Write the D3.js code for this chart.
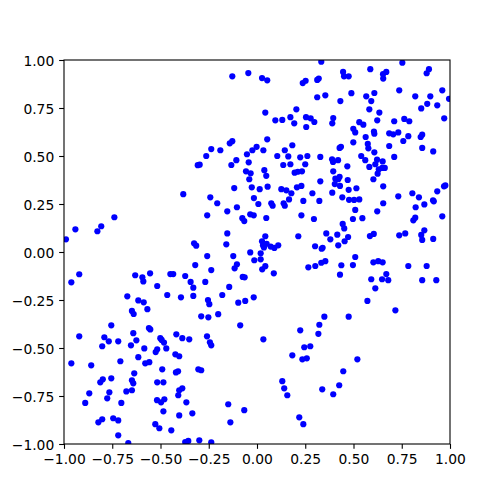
<!DOCTYPE html>
<html>
<head>
<meta charset="utf-8">
<script src="https://cdn.jsdelivr.net/npm/d3@7"></script>
<style>
  html, body { margin: 0; padding: 0; background: #fff; }
  svg { display: block; }
</style>
</head>
<body>
<svg id="chart" width="500" height="500"></svg>
<script>
// ---- data ----
const xValues = [
  -0.128,-0.045,-0.128,-0.141,-0.237,-0.190,-0.263,-0.297,-0.307,-0.133,-0.107,-0.052,-0.024,-0.043,-0.057,-0.033,-0.040,
  0.333,0.026,0.053,0.237,0.252,0.312,0.320,0.446,0.451,0.475,0.312,0.354,0.432,0.489,0.043,0.204,0.095,0.131,0.173,0.193,0.254,0.278,0.297,0.255,0.395,0.390,0.053,-0.002,0.033,0.183,0.144,0.105,0.162,0.224,0.261,0.328,0.428,0.435,0.136,0.173,0.250,0.038,0.048,0.195,0.211,0.233,0.389,0.394,0.420,0.468,0.395,0.428,0.406,0.421,0.470,0.403,0.328,
  0.753,0.587,0.653,0.670,0.654,0.879,0.891,0.566,0.608,0.592,0.737,0.820,0.960,0.995,0.898,0.882,0.934,0.851,0.582,0.634,0.623,0.970,0.530,0.551,0.499,0.509,0.606,0.608,0.563,0.499,0.711,0.763,0.789,0.685,0.706,0.732,0.784,0.758,0.848,0.856,0.574,0.577,0.685,0.856,0.913,0.608,0.540,0.561,0.711,0.622,0.651,0.613,0.582,0.631,0.649,0.662,0.625,0.603,
  0.475,0.515,0.654,0.969,0.976,0.934,0.477,0.503,0.530,0.509,0.497,0.546,0.654,0.623,0.732,0.805,0.839,0.867,0.822,0.912,0.916,0.960,0.820,0.810,0.472,0.585,0.605,0.737,0.768,0.851,0.856,0.867,0.913,0.509,0.497,0.603,0.628,0.651,0.784,0.879,0.670,0.592,0.648,0.680,0.856,0.929,0.613,0.572,0.717,
  0.014,0.055,0.126,0.152,0.178,0.207,0.230,-0.016,0.007,0.074,0.081,0.138,0.144,0.166,0.240,0.287,0.323,0.390,0.430,0.442,0.048,0.230,0.295,0.444,0.452,0.416,0.380,0.359,0.454,0.421,0.214,0.043,0.026,0.050,0.031,0.036,0.071,0.090,0.110,0.019,-0.014,0.019,0.043,0.027,0.087,0.301,0.335,0.340,0.266,0.302,0.333,0.354,0.437,0.430,-0.017,
  -0.118,-0.027,-0.382,-0.242,-0.206,-0.104,-0.154,-0.258,-0.035,-0.017,-0.076,-0.066,-0.154,-0.159,-0.326,-0.315,-0.258,-0.123,-0.035,-0.320,-0.104,-0.116,-0.237,-0.449,-0.434,-0.372,-0.074,-0.064,-0.517,-0.344,-0.330,-0.268,-0.144,-0.465,-0.394,-0.330,-0.254,-0.247,-0.180,-0.097,-0.061,
  -0.739,-0.941,-0.827,-0.807,-0.990,-0.921,-0.962,-0.631,-0.594,-0.589,-0.554,-0.672,-0.615,-0.587,-0.568,-0.648,
  -0.639,-0.755,-0.921,-0.791,-0.802,-0.768,-0.719,-0.641,-0.653,-0.625,-0.560,-0.553,-0.584,-0.615,-0.525,-0.517,-0.579,-0.558,-0.962,-0.859,-0.708,-0.636,-0.648,-0.641,-0.799,-0.812,-0.755,-0.517,-0.869,-0.890,-0.765,-0.776,-0.677,-0.648,-0.703,-0.822,-0.802,-0.745,-0.719,-0.719,-0.667,-0.527,-0.506,
  -0.289,-0.252,-0.201,-0.087,-0.501,-0.494,-0.482,-0.418,-0.387,-0.351,-0.259,-0.244,-0.237,-0.470,-0.423,-0.403,-0.491,-0.420,-0.409,-0.304,-0.289,-0.485,-0.387,-0.403,-0.408,-0.518,-0.497,-0.480,-0.366,-0.485,-0.403,-0.335,-0.149,-0.066,-0.138,-0.444,-0.372,-0.356,-0.299,-0.237,
  0.349,0.475,0.323,0.318,0.224,0.033,0.245,0.276,0.183,0.235,0.258,0.447,0.131,0.141,0.157,0.426,0.338,0.395,0.219,0.240,0.520
];
const yValues = [
  0.915,0.932,0.577,0.566,0.536,0.530,0.500,0.455,0.452,0.453,0.478,0.509,0.530,0.467,0.420,0.410,0.379,
  0.991,0.906,0.894,0.880,0.892,0.896,0.903,0.938,0.915,0.915,0.806,0.816,0.786,0.827,0.726,0.743,0.686,0.688,0.702,0.670,0.702,0.696,0.677,0.651,0.698,0.670,0.587,0.548,0.530,0.556,0.530,0.500,0.498,0.493,0.500,0.495,0.542,0.548,0.453,0.457,0.457,0.426,0.397,0.413,0.418,0.420,0.483,0.469,0.478,0.446,0.420,0.392,0.382,0.379,0.375,0.354,0.368,
  0.986,0.952,0.926,0.938,0.903,0.931,0.952,0.811,0.828,0.786,0.842,0.811,0.842,0.798,0.811,0.772,0.764,0.748,0.743,0.726,0.686,0.696,0.676,0.663,0.642,0.623,0.627,0.616,0.599,0.571,0.681,0.693,0.681,0.618,0.613,0.623,0.603,0.578,0.599,0.611,0.563,0.540,0.552,0.542,0.524,0.519,0.500,0.478,0.495,0.481,0.472,0.457,0.443,0.431,0.438,0.438,0.408,0.379,
  0.324,0.332,0.342,0.342,0.347,0.316,0.272,0.271,0.274,0.219,0.172,0.176,0.254,0.212,0.290,0.306,0.285,0.248,0.233,0.269,0.264,0.186,0.179,0.165,0.078,0.083,0.094,0.087,0.097,0.089,0.063,0.113,0.068,-0.026,-0.068,-0.054,-0.048,-0.054,-0.073,-0.073,-0.115,-0.142,-0.142,-0.147,-0.147,-0.147,-0.189,-0.255,-0.304,
  0.327,0.340,0.327,0.321,0.306,0.337,0.344,0.281,0.250,0.254,0.241,0.254,0.241,0.274,0.266,0.306,0.266,0.309,0.344,0.285,0.177,0.191,0.172,0.146,0.123,0.090,0.066,0.097,0.056,0.035,0.082,0.082,0.056,0.043,0.035,0.024,0.028,0.021,0.035,-0.007,-0.043,-0.038,-0.074,-0.090,-0.111,0.030,0.017,0.022,-0.080,-0.073,-0.056,-0.048,-0.069,-0.118,-0.236,
  0.333,0.337,0.301,0.285,0.254,0.233,0.212,0.191,0.196,0.191,0.176,0.161,0.097,0.040,0.045,0.033,-0.021,-0.021,-0.002,-0.068,-0.064,-0.085,-0.094,-0.115,-0.115,-0.125,-0.130,-0.132,-0.177,-0.156,-0.186,-0.156,-0.182,-0.224,-0.236,-0.229,-0.250,-0.272,-0.224,-0.264,-0.255,
  0.181,0.118,0.108,0.134,0.066,-0.116,-0.158,-0.121,-0.132,-0.153,-0.111,-0.231,-0.252,-0.262,-0.298,-0.307,
  -0.323,-0.382,-0.439,-0.444,-0.491,-0.465,-0.465,-0.423,-0.486,-0.460,-0.396,-0.403,-0.502,-0.548,-0.521,-0.507,-0.580,-0.574,-0.580,-0.590,-0.569,-0.632,-0.668,-0.684,-0.663,-0.679,-0.658,-0.679,-0.736,-0.786,-0.731,-0.762,-0.726,-0.720,-0.786,-0.887,-0.871,-0.866,-0.877,-0.955,-0.995,-0.897,-0.918,
  -0.335,-0.340,-0.324,-0.382,-0.449,-0.458,-0.472,-0.429,-0.449,-0.455,-0.439,-0.470,-0.486,-0.502,-0.533,-0.543,-0.611,-0.627,-0.621,-0.611,-0.616,-0.679,-0.710,-0.720,-0.746,-0.772,-0.783,-0.767,-0.783,-0.830,-0.851,-0.840,-0.793,-0.824,-0.887,-0.929,-0.990,-0.984,-0.981,-0.991,
  -0.337,-0.337,-0.379,-0.426,-0.408,-0.455,-0.496,-0.491,-0.538,-0.559,-0.554,-0.621,-0.673,-0.710,-0.746,-0.694,-0.715,-0.741,-0.861,-0.897,-0.559
];
const xTicks = [-1, -0.75, -0.5, -0.25, 0, 0.25, 0.5, 0.75, 1];
const yTicks = [-1, -0.75, -0.5, -0.25, 0, 0.25, 0.5, 0.75, 1];
const xDomain = [-1, 1];
const yDomain = [-1, 1];

// ---- layout ----
const plotLeft = 64, plotRight = 450, plotTop = 60, plotBottom = 444;
const fontSize = 13.89;
const tickLen = 4.86;

const svg = d3.select("#chart");
const x = d3.scaleLinear().domain(xDomain).range([plotLeft, plotRight]);
const y = d3.scaleLinear().domain(yDomain).range([plotBottom, plotTop]);
const fmt = d3.format(".2f");

svg.append("defs").append("clipPath").attr("id", "plotclip")
  .append("rect")
  .attr("x", plotLeft).attr("y", plotTop)
  .attr("width", plotRight - plotLeft).attr("height", plotBottom - plotTop);

const points = d3.zip(xValues, yValues);
svg.append("g").attr("clip-path", "url(#plotclip)")
  .selectAll("circle").data(points).join("circle")
  .attr("cx", d => x(d[0]))
  .attr("cy", d => y(d[1]))
  .attr("r", 3.1)
  .attr("fill", "#0000ff");

const xAxis = svg.append("g")
  .attr("transform", `translate(0,${plotBottom})`)
  .call(d3.axisBottom(x).tickValues(xTicks).tickFormat(fmt)
    .tickSize(tickLen).tickSizeOuter(0).tickPadding(4.86));
const yAxis = svg.append("g")
  .attr("transform", `translate(${plotLeft},0)`)
  .call(d3.axisLeft(y).tickValues(yTicks).tickFormat(fmt)
    .tickSize(tickLen).tickSizeOuter(0).tickPadding(4.86));

[xAxis, yAxis].forEach(g => {
  g.select(".domain").remove();
  g.selectAll(".tick line").attr("stroke", "#000").attr("stroke-width", 1.1);
  g.selectAll(".tick text")
    .attr("fill", "#000")
    .style("font-family", "'DejaVu Sans', sans-serif")
    .style("font-size", fontSize + "px");
});
xAxis.selectAll(".tick text").attr("dy", "0.76em");
yAxis.selectAll(".tick text").attr("dy", "0.36em");

svg.append("rect")
  .attr("x", plotLeft).attr("y", plotTop)
  .attr("width", plotRight - plotLeft).attr("height", plotBottom - plotTop)
  .attr("fill", "none").attr("stroke", "#000").attr("stroke-width", 1.1);
</script>
</body>
</html>
